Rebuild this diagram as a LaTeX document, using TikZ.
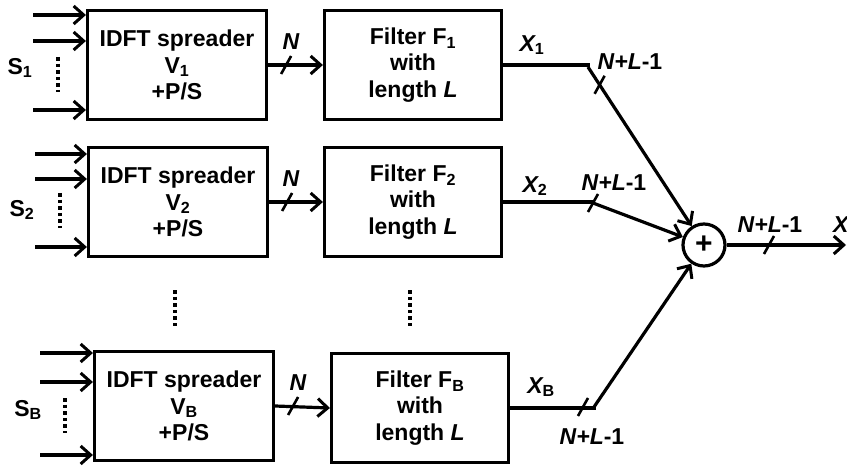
\documentclass[tikz,border=0pt]{standalone}
\usepackage{fontspec}
\setmainfont{Liberation Sans}
\usetikzlibrary{arrows.meta,calc}

\begin{document}
\begin{tikzpicture}[x=1pt,y=-1pt,
  txt/.style={font=\bfseries\fontsize{23}{26.5}\selectfont, inner sep=0pt},
  blk/.style={txt, draw, line width=3.2pt, align=center},
  idft/.style={blk, minimum width=179pt, minimum height=109pt},
  filt/.style={blk, minimum width=177pt, minimum height=109pt},
  wire/.style={line width=3.2pt},
  arr/.style={wire, -{Straight Barb[length=10pt,width=18pt,line width=3pt]}},
  vdots/.style={line width=3.8pt, dash pattern=on 3.6pt off 3pt},
  lbl/.style={font=\bfseries\itshape\fontsize{23}{26}\selectfont, inner sep=0pt},
  sig/.style={font=\bfseries\fontsize{23}{26}\selectfont, inner sep=0pt}
]
\useasboundingbox (0,0) rectangle (847,468);

\newcommand{\busmark}[1]{\draw[wire, line width=2.6pt] ($(#1)+(-5,9)$) -- ($(#1)+(5,-9)$);}

% ---- branch 1 ----
\node[idft] (i1) at (177,65) {IDFT spreader\\V\textsubscript{1}\\+P/S};
\node[filt] (f1) at (413,65) {Filter F\textsubscript{1}\\with\\length \textit{L}};
% ---- branch 2 ----
\node[idft] (i2) at (178,202) {IDFT spreader\\V\textsubscript{2}\\+P/S};
\node[filt] (f2) at (413,202) {Filter F\textsubscript{2}\\with\\length \textit{L}};
% ---- branch B ----
\node[idft] (iB) at (184,406) {IDFT spreader\\V\textsubscript{B}\\+P/S};
\node[filt] (fB) at (420,408) {Filter F\textsubscript{B}\\with\\length \textit{L}};

% summing node
\node[draw, circle, line width=3.2pt, minimum size=42pt, inner sep=0pt,
      font=\bfseries\fontsize{30}{30}\selectfont] (sum) at (704,245) {+};

% input streams
\foreach \b/\xs/\ya/\yb/\yc in {1/33/15/41/110, 2/35/154/179/247, B/40/353/382/455}{
  \coordinate (a\b) at (\xs,\ya);
  \coordinate (m\b) at (\xs,\yb);
  \coordinate (z\b) at (\xs,\yc);
  \draw[arr] (a\b) -- (a\b -| i\b.west);
  \draw[arr] (m\b) -- (m\b -| i\b.west);
  \draw[arr] (z\b) -- (z\b -| i\b.west);
}
\node[sig] (s1) at (20,68) {S\textsubscript{1}};
\node[sig] (s2) at (22,210) {S\textsubscript{2}};
\node[sig] (sB) at (28,410) {S\textsubscript{B}};
\draw[vdots] (58,57) -- (58,92);
\draw[vdots] (60,193) -- (60,228);
\draw[vdots] (65,398) -- (65,433);

% branches 3 .. B-1 left out
\draw[vdots] (175,290) -- (175,326);
\draw[vdots] (410,290) -- (410,326);

% spreader -> filter
\foreach \b in {1,2,B}{
  \draw[arr] (i\b.east) -- (f\b.west);
  \coordinate (n\b) at ($(i\b.east)+(18,0)$);
  \busmark{n\b}
}
\node[lbl] (N1) at (291,42) {N};
\node[lbl] (N2) at (291,179) {N};
\node[lbl] (NB) at (298,383) {N};

% filter outputs to the adder
\coordinate (b1) at (588,67);
\coordinate (b2) at (593,203);
\coordinate (bB) at (594,407);
\draw[wire] (f1.east) -- (f1.east -| b1) -- (b1);
\draw[wire] (f2.east) -- (f2.east -| b2) -- (b2);
\draw[wire] (fB.east) -- (fB.east -| bB) -- (bB);
\draw[arr] (b1) -- (sum);
\draw[arr] (b2) -- (sum);
\draw[arr] (bB) -- (sum);
\coordinate (k1) at ($(b1)!0.1!(sum)$);
\busmark{k1}
\busmark{b2}
\coordinate (kB) at ($(bB)+(-11,0)$);
\busmark{kB}

\node[lbl] (x1) at (532,45) {X\textsubscript{\upshape 1}};
\node[lbl] (x2) at (535,186) {X\textsubscript{\upshape 2}};
\node[lbl] (xB) at (541,387) {X\textsubscript{\upshape B}};
\node[lbl] (l1) at (630,62) {N+L\upshape-1};
\node[lbl] (l2) at (614,183) {N+L\upshape-1};
\node[lbl] (lB) at (592,437) {N+L\upshape-1};

% adder output
\coordinate (out) at (846,245);
\draw[arr] (sum.east) -- (out);
\coordinate (k0) at (769,245);
\busmark{k0}
\node[lbl] (lo) at (770,225) {N+L\upshape-1};
\node[lbl, anchor=west] (xo) at (833,225) {X};
\end{tikzpicture}
\end{document}
